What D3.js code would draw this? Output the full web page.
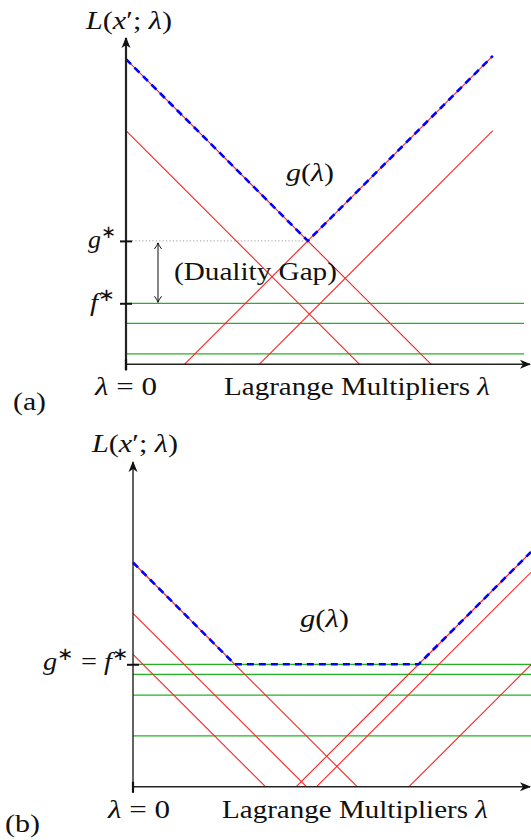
<!DOCTYPE html>
<html>
<head>
<meta charset="utf-8">
<script src="https://cdnjs.cloudflare.com/ajax/libs/d3/7.8.5/d3.min.js"></script>
<style>
  body { margin: 0; background: #fff; }
  svg { display: block; }
</style>
</head>
<body>
<svg id="chart" width="531" height="840"></svg>
<script>
// (a): falling lines L = a - lambda, rising lines L = lambda - b, flat lines L = c
var fallingA = [76.3, 58.4];
var risingA = [14.6, 33.3];
var flatA = [15.25, 10.25, 2.6];
var lambdaEndA = 91.7;

// (b)
var fallingB = [56.05, 43.35, 33.1];
var risingB = [40.8, 45.9, 69.0];
var flatB = [30.6, 28.1, 22.9, 12.7];
var lambdaEndB = 99.5;

var flatEnd = 99.5;

var RED = '#ff2020', GREEN = '#22b322', BLUE = '#0000ff';
var FONT = 'Liberation Serif';

var svg = d3.select('#chart');

// arrow heads
var defs = svg.append('defs');
defs.append('marker')
  .attr('id', 'stealth')
  .attr('viewBox', '-10 -5 12 10')
  .attr('markerWidth', 12).attr('markerHeight', 10)
  .attr('markerUnits', 'userSpaceOnUse')
  .attr('refX', 0).attr('refY', 0)
  .attr('orient', 'auto')
  .append('path')
  .attr('d', 'M-10,-4.5 L1,0 L-10,4.5 L-7,0 Z')
  .attr('fill', '#111');
defs.append('marker')
  .attr('id', 'openHead')
  .attr('viewBox', '-8 -5 10 10')
  .attr('markerWidth', 10).attr('markerHeight', 10)
  .attr('markerUnits', 'userSpaceOnUse')
  .attr('refX', 0).attr('refY', 0)
  .attr('orient', 'auto-start-reverse')
  .append('path')
  .attr('d', 'M-6,-3.5 Q-2,-0.5 0,0 Q-2,0.5 -6,3.5')
  .attr('fill', 'none').attr('stroke', '#111').attr('stroke-width', 1);

// g(lambda) = max over the top falling line, the first rising line and (b) the top flat line
function envelope(falling, rising, flat, lambdaEnd) {
  var f = function(l) {
    var v = Math.max(falling[0] - l, l - rising[0]);
    if (flat !== null) v = Math.max(v, flat);
    return v;
  };
  var cand = [0, lambdaEnd];
  if (flat === null) cand.push((falling[0] + rising[0]) / 2);
  else { cand.push(falling[0] - flat); cand.push(rising[0] + flat); }
  cand = cand.filter(function(l) { return l >= 0 && l <= lambdaEnd; }).sort(d3.ascending);
  return cand.map(function(l) { return [l, f(l)]; });
}

function drawPanel(p) {
  var x = d3.scaleLinear().domain([0, 100]).range([p.x0, p.x0 + 400]);
  var y = d3.scaleLinear().domain([0, 100]).range([p.y0, p.y0 - 400]);
  var line = d3.line().x(function(d) { return x(d[0]); }).y(function(d) { return y(d[1]); });
  var g = svg.append('g');

  p.flat.forEach(function(c) {
    g.append('path').attr('class', 'flat').attr('d', line([[0, c], [flatEnd, c]]))
      .attr('stroke', GREEN).attr('stroke-width', 1.2).attr('fill', 'none');
  });
  p.falling.forEach(function(a) {
    g.append('path').attr('class', 'falling').attr('d', line([[0, a], [a, 0]]))
      .attr('stroke', RED).attr('stroke-width', 1.1).attr('fill', 'none');
  });
  p.rising.forEach(function(b) {
    g.append('path').attr('class', 'rising').attr('d', line([[b, 0], [p.lambdaEnd, p.lambdaEnd - b]]))
      .attr('stroke', RED).attr('stroke-width', 1.1).attr('fill', 'none');
  });

  // dual function
  var env = envelope(p.falling, p.rising, p.envFlat, p.lambdaEnd);
  g.append('path').attr('d', line(env))
    .attr('stroke', BLUE).attr('stroke-width', 2.6).attr('fill', 'none')
    .attr('stroke-dasharray', '7,5');

  // axes
  g.append('line')
    .attr('x1', x(0)).attr('y1', p.y0 + 6).attr('x2', x(0)).attr('y2', p.yTop)
    .attr('stroke', '#222').attr('stroke-width', p.yAxisW).attr('marker-end', 'url(#stealth)');
  g.append('line')
    .attr('x1', x(0)).attr('y1', p.y0).attr('x2', 530).attr('y2', p.y0)
    .attr('stroke', '#222').attr('stroke-width', 1.4).attr('marker-end', 'url(#stealth)');
  g.append('line')
    .attr('x1', x(0)).attr('y1', p.y0 - 5).attr('x2', x(0)).attr('y2', p.y0 + 6)
    .attr('stroke', '#111').attr('stroke-width', 2.2);

  return {x: x, y: y, env: env, g: g};
}

// g*, f* marks through a d3 axis
function levelTicks(P, vals) {
  var t = P.g.append('g')
    .attr('transform', 'translate(' + (P.x(0) - 6) + ',0)')
    .call(d3.axisLeft(P.y).tickValues(vals).tickSize(-12).tickFormat(''));
  t.select('.domain').remove();
  t.selectAll('line').attr('stroke', '#111').attr('stroke-width', 2);
}

// text set at a left edge and baseline, then stretched to the width it has in the reference
function label(parts, xPos, base, width, size) {
  var t = svg.append('text').attr('x', 0).attr('y', 0)
    .attr('font-family', FONT).attr('fill', '#111')
    .attr('font-size', size);
  parts.forEach(function(s) {
    var ts = t.append('tspan').text(s.t);
    if (s.i) ts.attr('font-style', 'italic');
    if (s.sup) ts.attr('font-size', size * 0.7).attr('dy', -size * 0.4);
    if (s.down) ts.attr('dy', size * 0.4);
  });
  var w = t.node().getComputedTextLength();
  var sx = w > 0 ? width / w : 1;
  t.attr('transform', 'translate(' + xPos + ',' + base + ') scale(' + sx + ',1)');
  return t;
}

var Lx = [{t: 'L', i: 1}, {t: '('}, {t: 'x', i: 1}, {t: '′'}, {t: '; '}, {t: 'λ', i: 1}, {t: ')'}];
var gl = [{t: 'g', i: 1}, {t: '('}, {t: 'λ', i: 1}, {t: ')'}];
var lam0 = [{t: 'λ', i: 1}, {t: ' = 0'}];
var lagr = [{t: 'Lagrange Multipliers '}, {t: 'λ', i: 1}];

// ---- panel (a)
var A = drawPanel({
  x0: 126, y0: 364.3, yTop: 38, yAxisW: 2.2,
  falling: fallingA, rising: risingA, flat: flatA, envFlat: null,
  lambdaEnd: lambdaEndA
});
var vertexA = A.env[1];
var gStarA = vertexA[1], fStarA = flatA[0];
levelTicks(A, [gStarA, fStarA]);

// dotted level of g*
A.g.append('line')
  .attr('x1', A.x(0) + 6).attr('x2', A.x(vertexA[0])).attr('y1', A.y(gStarA)).attr('y2', A.y(gStarA))
  .attr('stroke', '#999').attr('stroke-width', 1).attr('stroke-dasharray', '1.2,2.2');
// duality gap arrow
A.g.append('line')
  .attr('x1', 158).attr('x2', 158).attr('y1', A.y(gStarA) + 2).attr('y2', A.y(fStarA) - 1)
  .attr('stroke', '#111').attr('stroke-width', 1)
  .attr('marker-start', 'url(#openHead)').attr('marker-end', 'url(#openHead)');

label(Lx, 86, 29, 86, 25);
label(gl, 286, 181, 48, 25);
label([{t: 'g', i: 1}, {t: '∗', sup: 1}], 88, 248, 28, 26);
label([{t: 'f', i: 1}, {t: '∗', sup: 1}], 90, 311, 25, 26);
label([{t: '(Duality Gap)'}], 174, 280, 163, 25);
label(lam0, 95, 395, 62, 25);
label(lagr, 224, 395, 266, 25);
label([{t: '(a)'}], 13, 410, 33, 25);

// ---- panel (b)
var B = drawPanel({
  x0: 133, y0: 786.7, yTop: 462, yAxisW: 1.4,
  falling: fallingB, rising: risingB, flat: flatB, envFlat: flatB[0],
  lambdaEnd: lambdaEndB
});
levelTicks(B, [flatB[0]]);

label(Lx, 92, 452, 86, 25);
label(gl, 300, 627, 49, 25);
label([{t: 'g', i: 1}, {t: '∗', sup: 1}, {t: ' = ', down: 1}, {t: 'f', i: 1}, {t: '∗', sup: 1}], 43, 670, 85, 26);
label(lam0, 108, 818, 62, 25);
label(lagr, 222, 818, 266, 25);
label([{t: '(b)'}], 5, 832, 35, 25);
</script>
</body>
</html>
